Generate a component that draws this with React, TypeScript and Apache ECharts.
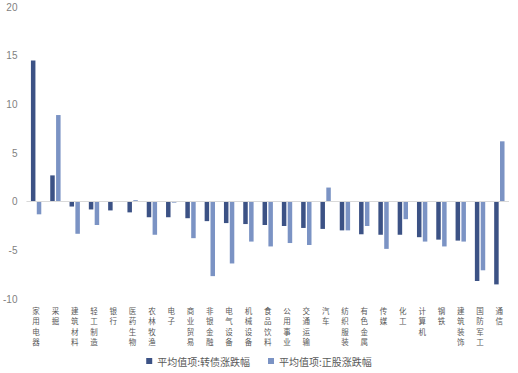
import React, { useEffect, useRef } from "react";
import * as echarts from "echarts";

const categories = ["家用电器","采掘","建筑材料","轻工制造","银行","医药生物","农林牧渔","电子","商业贸易","非银金融","电气设备","机械设备","食品饮料","公用事业","交通运输","汽车","纺织服装","有色金属","传媒","化工","计算机","钢铁","建筑装饰","国防军工","通信"];
const bondChange = [14.5,2.7,-0.5,-0.8,-0.9,-1.1,-1.6,-1.6,-1.7,-2.0,-2.2,-2.3,-2.4,-2.5,-2.7,-2.8,-2.95,-3.35,-3.4,-3.4,-3.65,-3.9,-4.0,-8.15,-8.5];
const stockChange = [-1.3,8.9,-3.3,-2.4,0,0.15,-3.4,-0.1,-3.75,-7.65,-6.35,-4.1,-4.6,-4.25,-4.45,1.45,-2.95,-2.5,-4.85,-1.8,-4.1,-4.6,-4.1,-7.05,6.2];
const seriesNames = ["平均值项:转债涨跌幅","平均值项:正股涨跌幅"];

export default function App() {
  const ref = useRef<HTMLDivElement>(null);
  useEffect(() => {
    const chart = echarts.init(ref.current!, null, { renderer: "svg" });
    chart.setOption({
      animation: false,
      grid: { left: 26, right: 9, top: 7, bottom: 74 },
      legend: {
        bottom: 2,
        left: "center",
        itemWidth: 6,
        itemHeight: 6,
        itemGap: 18,
        icon: "rect",
        textStyle: { fontSize: 10, color: "#595959", fontFamily: "Noto Sans CJK SC" },
        data: seriesNames,
      },
      xAxis: {
        type: "category",
        data: categories,
        axisLine: { show: false, onZero: false },
        axisTick: { show: false },
        axisLabel: {
          interval: 0,
          fontSize: 7.5,
          lineHeight: 10.5,
          color: "#595959",
          fontFamily: "Noto Sans CJK SC",
          margin: 6,
          verticalAlign: "top",
          formatter: (v: string) => v.split("").join("\n"),
        },
      },
      yAxis: {
        type: "value",
        min: -10,
        max: 20,
        interval: 5,
        splitLine: { show: false },
        axisLine: { show: false },
        axisTick: { show: false },
        axisLabel: { fontSize: 10, color: "#7f7f7f", fontFamily: "Liberation Sans", margin: 9 },
      },
      series: [
        {
          name: seriesNames[0],
          type: "bar",
          data: bondChange,
          barWidth: 4.5,
          barGap: "30%",
          itemStyle: { color: "#3c5285" },
          markLine: {
            silent: true,
            symbol: "none",
            label: { show: false },
            lineStyle: { color: "#d9d9d9", type: "solid", width: 1 },
            data: [{ yAxis: 0 }],
          },
        },
        {
          name: seriesNames[1],
          type: "bar",
          data: stockChange,
          barWidth: 4.5,
          barGap: "30%",
          itemStyle: { color: "#7b93c4" },
        },
      ],
    });
    return () => chart.dispose();
  }, []);
  return <div ref={ref} style={{ width: 518, height: 373, position: "absolute", left: 0, top: 0, background: "#fff" }} />;
}
